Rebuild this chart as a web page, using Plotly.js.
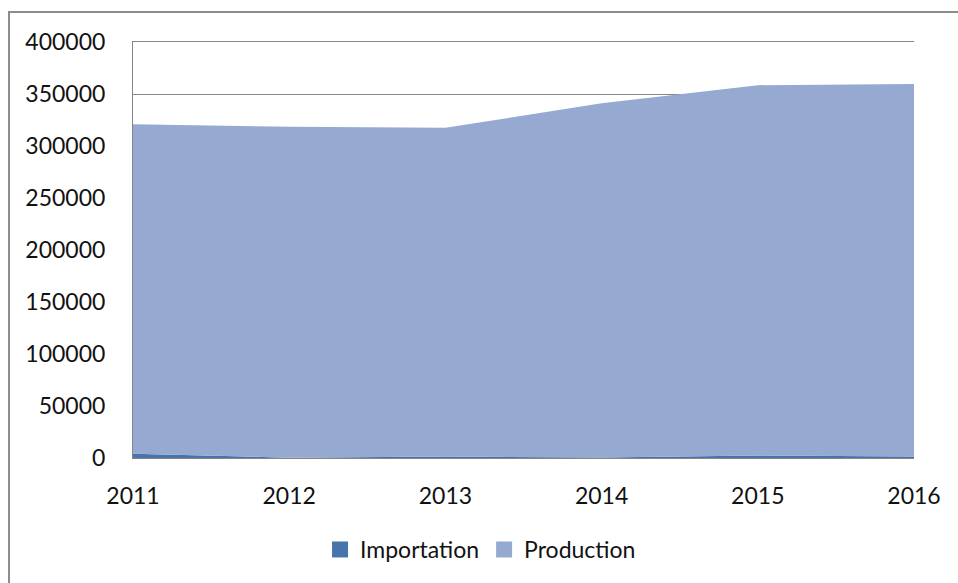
<!DOCTYPE html>
<html>
<head>
<meta charset="utf-8">
<script src="https://cdn.plot.ly/plotly-3.0.1.min.js"></script>
<style>
  html, body { margin: 0; padding: 0; background: #ffffff; }
  #wrap { position: relative; width: 958px; height: 583px; overflow: hidden; }
  #chart { position: absolute; left: 0; top: 0; width: 958px; height: 583px; }
  #frame { position: absolute; left: 8px; top: 11px; width: 1000px; height: 700px;
           border-left: 2px solid #8c8c8c; border-top: 2px solid #8c8c8c; pointer-events: none; }
</style>
</head>
<body>
<div id="wrap">
  <div id="chart"></div>
  <div id="frame"></div>
</div>
<script>
const years = ['2011', '2012', '2013', '2014', '2015', '2016'];
const importation = [4000, 300, 1500, 400, 2500, 1500];
const production = [317000, 318200, 316000, 340600, 356000, 358000];
const yTicks = [0, 50000, 100000, 150000, 200000, 250000, 300000, 350000, 400000];
const seriesNames = ['Importation', 'Production'];
const seriesColors = ['#4874AE', '#95A9D1'];

const font = { family: 'Lato, "Open Sans", sans-serif', size: 23, color: '#111111' };

const traces = [
  {
    x: years, y: importation, name: seriesNames[0], type: 'scatter', mode: 'lines',
    stackgroup: 'one', showlegend: false,
    line: { width: 0, color: seriesColors[0] }, fillcolor: seriesColors[0]
  },
  {
    x: years, y: production, name: seriesNames[1], type: 'scatter', mode: 'lines',
    stackgroup: 'one', showlegend: false,
    line: { width: 0, color: seriesColors[1] }, fillcolor: seriesColors[1]
  }
];
// legend-only entries with square keys
seriesNames.forEach((n, i) => {
  traces.push({
    x: [years[0]], y: [null], name: n, type: 'scatter', mode: 'markers',
    showlegend: true, hoverinfo: 'skip',
    marker: { symbol: 'square', size: 16, color: seriesColors[i], line: { width: 0 } }
  });
});

const layout = {
  width: 958, height: 583,
  margin: { l: 133, r: 44, t: 42, b: 125 },
  paper_bgcolor: 'rgba(0,0,0,0)', plot_bgcolor: '#ffffff',
  font: font,
  showlegend: true,
  legend: {
    orientation: 'h', x: 0.445, xanchor: 'center', y: -0.22, yanchor: 'middle',
    font: font, itemsizing: 'trace', traceorder: 'normal', itemwidth: 30
  },
  xaxis: {
    type: 'category', range: [0, 5], showgrid: false, zeroline: false,
    showline: true, linecolor: '#868686', linewidth: 1, mirror: true,
    ticks: '', ticklabelstandoff: 17, tickfont: font, fixedrange: true
  },
  yaxis: {
    range: [0, 400000], tickvals: yTicks, ticktext: yTicks.map(String),
    showgrid: true, gridcolor: '#868686', gridwidth: 1, zeroline: false,
    showline: true, linecolor: '#868686', linewidth: 1,
    ticks: '', ticklabelstandoff: 22, tickfont: font, fixedrange: true
  }
};

Plotly.newPlot('chart', traces, layout, { displayModeBar: false, staticPlot: true });
</script>
</body>
</html>
